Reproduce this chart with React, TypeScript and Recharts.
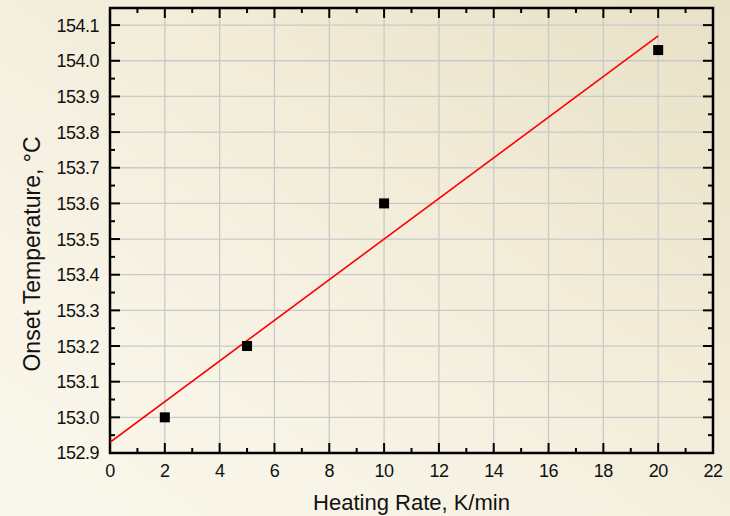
import { CartesianGrid, ComposedChart, Label, Line, ReferenceArea, Scatter, XAxis, YAxis } from 'recharts'

// measured onsets
const rates = [2, 5, 10, 20]
const onsetTemps = [153.0, 153.2, 153.6, 154.03]

// linear fit
const fitRates = [0, 20]
const fitTemps = [152.93, 154.07]

const xMajorTicks = [0, 2, 4, 6, 8, 10, 12, 14, 16, 18, 20, 22]
const xMinorTicks = [1, 3, 5, 7, 9, 11, 13, 15, 17, 19, 21]
const yMajorTicks = [152.9, 153.0, 153.1, 153.2, 153.3, 153.4, 153.5, 153.6, 153.7, 153.8, 153.9, 154.0, 154.1]
const yMinorTicks = [152.95, 153.05, 153.15, 153.25, 153.35, 153.45, 153.55, 153.65, 153.75, 153.85, 153.95, 154.05]

const W = 730
const H = 516
const M = { top: 8, right: 17, left: 0, bottom: 0 }
const Y_TOP = 154.148
const FONT = '"Liberation Sans", Arial, sans-serif'
const INK = '#111'

const points = rates.map((x, i) => ({ x, y: onsetTemps[i] }))
const fit = fitRates.map((x, i) => ({ x, y: fitTemps[i] }))

const isMajor = (list: number[], v: number) => list.some(t => Math.abs(t - v) < 1e-6)

function XTick({ x, y, payload }: any) {
  const major = isMajor(xMajorTicks, payload.value)
  const len = major ? 10 : 5
  return (
    <g>
      <line x1={x} x2={x} y1={y} y2={y - len} stroke="#000" strokeWidth={2} />
      <line x1={x} x2={x} y1={M.top} y2={M.top + len} stroke="#000" strokeWidth={2} />
      {major ? (
        <text x={x} y={y + 24} textAnchor="middle" fontSize={18} letterSpacing={-0.5} fontFamily={FONT} fill={INK}>
          {payload.value}
        </text>
      ) : null}
    </g>
  )
}

function YTick({ x, y, payload }: any) {
  const major = isMajor(yMajorTicks, payload.value)
  const len = major ? 10 : 5
  const right = W - M.right
  return (
    <g>
      <line x1={x} x2={x + len} y1={y} y2={y} stroke="#000" strokeWidth={2} />
      <line x1={right} x2={right - len} y1={y} y2={y} stroke="#000" strokeWidth={2} />
      {major ? (
        <text x={x - 11} y={y} dy="0.36em" textAnchor="end" fontSize={18} letterSpacing={-0.5} fontFamily={FONT} fill={INK}>
          {Number(payload.value).toFixed(1)}
        </text>
      ) : null}
    </g>
  )
}

function Square({ cx, cy }: any) {
  return <rect x={cx - 5} y={cy - 5} width={10} height={10} fill="#000" />
}

export default function App() {
  return (
    <div
      style={{
        position: 'absolute',
        left: 0,
        top: 0,
        width: W,
        height: H,
        background: 'linear-gradient(215deg, #e8e1c6 0%, #f2ecd9 40%, #f8f4e7 75%, #faf7ec 100%)',
      }}
    >
      <ComposedChart width={W} height={H} margin={M}>
        <CartesianGrid
          stroke="#c9c9c9"
          strokeWidth={1.3}
          horizontalValues={yMajorTicks}
          verticalValues={xMajorTicks}
        />
        <XAxis
          dataKey="x"
          type="number"
          domain={[0, 22]}
          ticks={[...xMajorTicks, ...xMinorTicks].sort((a, b) => a - b)}
          interval={0}
          allowDataOverflow
          axisLine={false}
          tickLine={false}
          tickSize={0}
          tickMargin={0}
          tick={<XTick />}
          height={63}
        >
          <Label
            content={({ viewBox }: any) => (
              <text
                x={viewBox.x + viewBox.width / 2}
                y={510}
                textAnchor="middle"
                fontSize={22}
                fontFamily={FONT}
                fill={INK}
              >
                Heating Rate, K/min
              </text>
            )}
          />
        </XAxis>
        <YAxis
          dataKey="y"
          type="number"
          domain={[152.9, Y_TOP]}
          ticks={[...yMajorTicks, ...yMinorTicks].sort((a, b) => a - b)}
          interval={0}
          allowDataOverflow
          axisLine={false}
          tickLine={false}
          tickSize={0}
          tickMargin={0}
          tick={<YTick />}
          width={110}
        >
          <Label
            content={() => (
              <text
                transform="translate(32,254) rotate(-90)"
                dy="0.36em"
                textAnchor="middle"
                fontSize={23}
                fontFamily={FONT}
                fill={INK}
              >
                Onset Temperature, °C
              </text>
            )}
          />
        </YAxis>
        <Line
          data={fit}
          dataKey="y"
          type="linear"
          stroke="#ff0000"
          strokeWidth={1.6}
          dot={false}
          activeDot={false}
          isAnimationActive={false}
        />
        <Scatter data={points} dataKey="y" fill="#000" shape={<Square />} isAnimationActive={false} />
        <ReferenceArea
          x1={0}
          x2={22}
          y1={152.9}
          y2={Y_TOP}
          fill="none"
          fillOpacity={0}
          stroke="#000"
          strokeWidth={2.5}
        />
      </ComposedChart>
    </div>
  )
}
